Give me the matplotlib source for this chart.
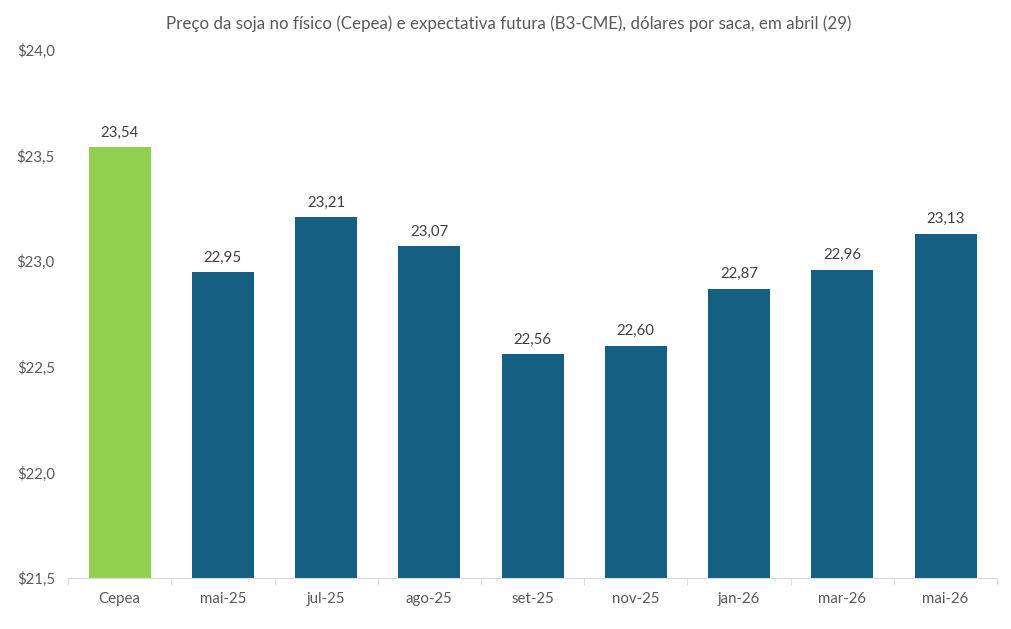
import matplotlib.pyplot as plt
import numpy as np

categories = ['Cepea', 'mai-25', 'jul-25', 'ago-25', 'set-25', 'nov-25', 'jan-26', 'mar-26', 'mai-26']
values = [23.54, 22.95, 23.21, 23.07, 22.56, 22.60, 22.87, 22.96, 23.13]
colors = ['#92D050'] + ['#156082'] * 8
yticks = [21.5, 22.0, 22.5, 23.0, 23.5, 24.0]

plt.rcParams['font.family'] = ['Lato', 'DejaVu Sans']
text_color = '#595959'

fig = plt.figure(figsize=(10.11, 6.29), dpi=100)
ax = fig.add_axes([0.0673, 0.081, 0.919, 0.8395])

x = np.arange(len(categories))
bars = ax.bar(x, values, width=0.6, color=colors, zorder=2)

for xi, v in zip(x, values):
    ax.text(xi, v + 0.035, f'{v:.2f}'.replace('.', ','), ha='center', va='bottom',
            fontsize=10.8, color='#404040')

ax.set_xlim(-0.5, len(categories) - 0.5)
ax.set_ylim(21.5, 24.0)
ax.set_yticks(yticks)
ax.set_yticklabels([f'${t:.1f}'.replace('.', ',') for t in yticks])
ax.set_xticks(x)
ax.set_xticklabels(categories)
ax.set_xticks(np.arange(-0.5, len(categories)), minor=True)

for s in ['left', 'right', 'top']:
    ax.spines[s].set_visible(False)
ax.spines['bottom'].set_color('#d9d9d9')
ax.tick_params(axis='y', length=0, labelsize=10.8, labelcolor=text_color, pad=9.5)
ax.tick_params(axis='x', which='major', length=0, labelsize=10.8, labelcolor=text_color, pad=10)
ax.tick_params(axis='x', which='minor', length=5, color='#d9d9d9')

fig.suptitle('Preço da soja no físico (Cepea) e expectativa futura (B3-CME), dólares por saca, em abril (29)',
             x=0.503, y=0.975, fontsize=12.2, color=text_color)

fig.savefig('out.png', dpi=100)
